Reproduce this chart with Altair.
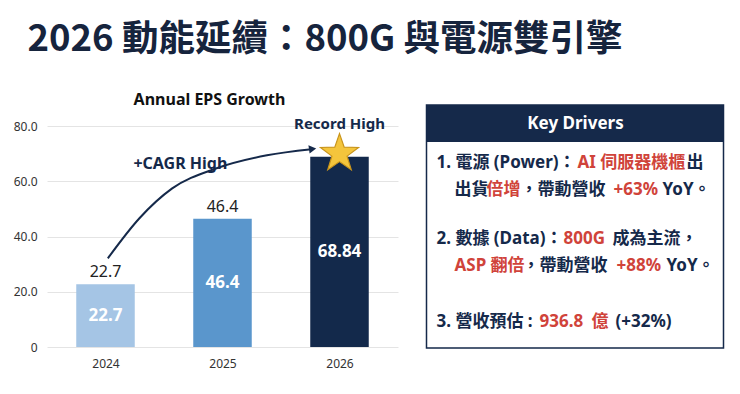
import altair as alt
import pandas as pd

# ---------------- data ----------------
years = ["2024", "2025", "2026"]
eps = [22.7, 46.4, 68.84]
inside_labels = ["22.7", "46.4", "68.84"]
above_years = ["2024", "2025"]
above_values = [22.7, 46.4]
above_labels = ["22.7", "46.4"]
bar_colors = ["#a5c5e5", "#5a96cc", "#13294b"]

# curved growth arrow (x in year index units, y in EPS units)
arrow_x = [0.02, 0.29, 0.57, 0.95, 1.38, 1.76]
arrow_y = [32.1, 46.6, 57.4, 64.7, 69.4, 71.6]

main_title = "2026 動能延續：800G 與電源雙引擎"
chart_title = "Annual EPS Growth"
panel_title = "Key Drivers"

# panel text segments
seg_text = [
    "1. 電源 (Power)：", "AI 伺服器機櫃", "出",
    "出貨", "倍增", "，帶動營收", "+63%", "YoY。",
    "2. 數據 (Data)：", "800G", "成為主流，",
    "ASP 翻倍", "，帶動營收", "+88%", "YoY。",
    "3. 營收預估 :", "936.8", "億", "(+32%)",
]
seg_color = [
    "n", "r", "n",
    "n", "r", "n", "r", "n",
    "n", "r", "n",
    "r", "n", "r", "n",
    "n", "r", "r", "n",
]
seg_line = [0, 0, 0, 1, 1, 1, 1, 1, 2, 2, 2, 3, 3, 3, 3, 4, 4, 4, 4]

# ---------------- layout (pixels) ----------------
NAVY = "#15294a"
RED = "#d0433a"
W, H = 351, 221
OX, OY = 47.5, 126  # page position of plot origin
seg_x_page = [437, 578, 687, 455, 487, 521, 614, 663, 437, 564, 613, 455, 523, 617, 667,
              437, 540, 592, 616]
line_y_page = [163, 190, 239, 266, 322]
MIX = "Noto Sans, Noto Sans CJK TC"
CJK = "Noto Sans CJK TC"
LAT = "Noto Sans"
BAR_HALF = 0.25
STAR_PATH = ("M0,-1L0.235,-0.324L0.951,-0.309L0.38,0.124L0.588,0.809L0,0.4"
             "L-0.588,0.809L-0.38,0.124L-0.951,-0.309L-0.235,-0.324Z")

idx = list(range(len(years)))
df = pd.DataFrame({"i": idx, "year": years, "eps": eps, "inside": inside_labels})
df["x0"] = df["i"] - BAR_HALF
df["x1"] = df["i"] + BAR_HALF
df["mid"] = df["eps"] / 2
df_above = pd.DataFrame({"i": [years.index(y) for y in above_years], "eps": above_values,
                         "label": above_labels})
df_arrow = pd.DataFrame({"i": arrow_x, "eps": arrow_y, "order": list(range(len(arrow_x)))})
one = pd.DataFrame({"a": [1]})

x_scale = alt.Scale(domain=[-0.5, 2.5], nice=False, zero=False)
label_expr = "[" + ",".join("'%s'" % y for y in years) + "][datum.value]"
x_axis = alt.Axis(title=None, values=idx, labelExpr=label_expr, grid=False, domain=False,
                  ticks=False, labelPadding=11, labelFontSize=12, labelColor="#333333",
                  labelFont=LAT)
y_scale = alt.Scale(domain=[0, 80], nice=False)
y_axis = alt.Axis(title=None, values=[0, 20, 40, 60, 80], domain=False, ticks=False,
                  labelPadding=10, labelFontSize=12, labelColor="#333333", labelFont=LAT,
                  gridColor="#e4e4e4",
                  labelExpr="datum.value == 0 ? '0' : format(datum.value, '.1f')")

bars = alt.Chart(df).mark_rect().encode(
    x=alt.X("x0:Q", scale=x_scale, axis=x_axis), x2="x1:Q",
    y=alt.Y("eps:Q", scale=y_scale, axis=y_axis), y2=alt.datum(0),
    color=alt.Color("year:N", scale=alt.Scale(domain=years, range=bar_colors), legend=None),
)
inside = alt.Chart(df).mark_text(
    color="white", fontSize=17, fontWeight="bold", font=LAT, baseline="middle"
).encode(x=alt.X("i:Q"), y=alt.Y("mid:Q"), text="inside:N")
above = alt.Chart(df_above).mark_text(
    color="#222222", fontSize=16, font=LAT, baseline="middle", dy=-12
).encode(x="i:Q", y="eps:Q", text="label:N")
record = alt.Chart(pd.DataFrame({"i": [2.0], "eps": [80.9], "t": ["Record High"]})).mark_text(
    color=NAVY, fontSize=15, fontWeight="bold", font=LAT, baseline="middle"
).encode(x="i:Q", y="eps:Q", text="t:N")
arrow = alt.Chart(df_arrow).mark_line(
    color=NAVY, strokeWidth=2, interpolate="monotone"
).encode(x="i:Q", y="eps:Q", order="order:Q")
head = alt.Chart(pd.DataFrame({"i": [1.77], "eps": [71.7]})).mark_point(
    shape="triangle-right", filled=True, size=70, color=NAVY, opacity=1, angle=352
).encode(x="i:Q", y="eps:Q")
cagr = alt.Chart(pd.DataFrame({"i": [0.64], "eps": [66.1], "t": ["+CAGR High"]})).mark_text(
    color=NAVY, fontSize=16, fontWeight="bold", font=LAT, baseline="middle"
).encode(x="i:Q", y="eps:Q", text="t:N")
star = alt.Chart(pd.DataFrame({"i": [2.0], "eps": [70.0]})).mark_point(
    shape=STAR_PATH, filled=True, size=1600, fill="#f4c53c", stroke="#c9951c",
    strokeWidth=1.2, opacity=1
).encode(x="i:Q", y="eps:Q")


def txt(text, px, py, **kw):
    return alt.Chart(one).mark_text(text=text, **kw).encode(
        x=alt.value(px - OX), y=alt.value(py - OY)
    )


annotations = [
    txt(main_title, 28, 40, font=CJK, fontSize=36.5, fontWeight="bold", color="#16243d",
        align="left", baseline="middle"),
    txt(chart_title, 210, 100, font=LAT, fontSize=16, fontWeight="bold", color="#111111",
        align="center", baseline="middle"),
]

box = alt.Chart(one).mark_rect(fill="white", stroke=NAVY, strokeWidth=1.5).encode(
    x=alt.value(427 - OX), x2=alt.value(724 - OX), y=alt.value(105 - OY), y2=alt.value(348 - OY)
)
header = alt.Chart(one).mark_rect(fill=NAVY).encode(
    x=alt.value(427 - OX), x2=alt.value(724 - OX), y=alt.value(105 - OY), y2=alt.value(142 - OY)
)
panel = [box, header,
         txt(panel_title, 576, 124, font=LAT, fontSize=17, fontWeight="bold", color="white",
             align="center", baseline="middle")]
for t, c, ln, sx in zip(seg_text, seg_color, seg_line, seg_x_page):
    panel.append(txt(t, sx, line_y_page[ln], font=MIX, fontSize=17, fontWeight="bold",
                     color=NAVY if c == "n" else RED, align="left", baseline="middle"))

chart = alt.layer(
    bars, inside, above, arrow, head, record, cagr, *annotations, *panel, star
).properties(
    width=W, height=H, background="white",
    padding={"left": 5, "top": 14, "right": 5, "bottom": 5},
).configure_view(stroke=None)

chart.save("out.html", embed_options={"renderer": "svg", "actions": False})
